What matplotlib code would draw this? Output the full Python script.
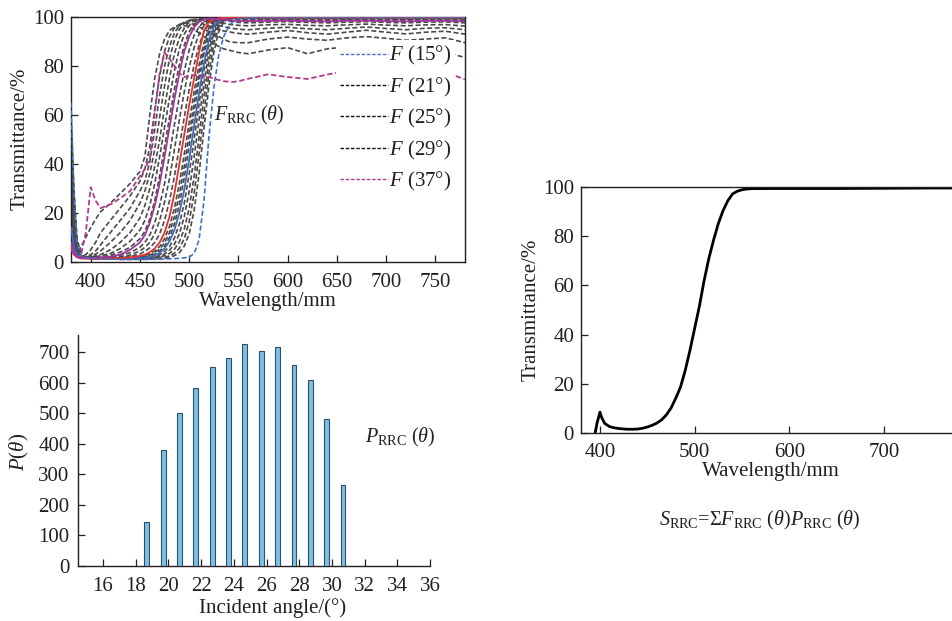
import matplotlib
matplotlib.use('Agg')
import matplotlib.pyplot as plt
from matplotlib.lines import Line2D
import numpy as np

plt.rcParams['font.family'] = ['Liberation Serif', 'DejaVu Serif']
plt.rcParams['mathtext.fontset'] = 'custom'
plt.rcParams['mathtext.rm'] = 'Liberation Serif'
plt.rcParams['mathtext.it'] = 'Liberation Serif:italic'
plt.rcParams['mathtext.bf'] = 'Liberation Serif:bold'

# ---------------- data: top-left, F(theta) spectra ----------------
wl = [380, 383, 386, 390, 395, 400, 405, 410, 420, 430, 440, 450,
      455, 460, 465, 470, 475, 480, 485, 490, 495, 500, 505, 510, 515, 520,
      525, 530, 535, 540, 545, 550,
      560, 580, 600, 620, 640, 660, 680, 700, 720, 740, 760, 780]

F15 = [65, 28, 8, 2.5, 1.8, 1.5, 1.4, 1.3, 1.2, 1.1, 1.1, 1.1,
       1.1, 1.1, 1.1, 1.2, 1.2, 1.3, 1.4, 1.5, 1.7, 2.0, 3.5, 9.0, 25, 51, 71, 84.5, 92, 96, 98.3, 99.3,
       99.7, 99.8, 99.8, 99.8, 99.8, 99.8, 99.8, 99.8, 99.8, 99.8, 99.8, 99.8]
F16 = [60, 30, 10, 3, 1.9, 1.5, 1.4, 1.3, 1.2, 1.1, 1.1, 1.1,
       1.1, 1.2, 1.2, 1.3, 1.4, 1.9, 2.6, 3.8, 6.5, 11.5, 21, 36, 54.5, 72, 85.5, 94, 98, 99.3, 99.6, 99.7,
       99.7, 99.6, 99.7, 99.6, 99.7, 99.7, 99.6, 99.7, 99.7, 99.6, 99.7, 99.7]
F17 = [57, 27, 9, 2.8, 1.9, 1.5, 1.4, 1.3, 1.2, 1.1, 1.1, 1.2,
       1.2, 1.3, 1.4, 1.6, 1.9, 2.5, 3.6, 5.6, 9.5, 16.5, 28, 44, 61, 77, 89, 95.8, 98.6, 99.4, 99.6, 99.6,
       99.5, 99.6, 99.5, 99.6, 99.6, 99.5, 99.6, 99.6, 99.5, 99.6, 99.6, 99.5]
F18 = [52, 24, 8, 2.6, 1.9, 1.5, 1.4, 1.3, 1.2, 1.2, 1.2, 1.3,
       1.4, 1.5, 1.7, 2.0, 2.6, 3.5, 5.2, 8.2, 13.5, 22, 35, 51, 67.5, 82, 92, 97, 99, 99.5, 99.6, 99.6,
       99.5, 99.4, 99.5, 99.5, 99.4, 99.5, 99.5, 99.4, 99.5, 99.5, 99.4, 99.4]
F19 = [48, 21, 7, 2.4, 1.8, 1.5, 1.4, 1.3, 1.2, 1.2, 1.3, 1.4,
       1.5, 1.7, 2.0, 2.4, 3.3, 4.8, 7.2, 11.5, 18.5, 29, 43, 58, 73, 85.5, 93.5, 97.7, 99.2, 99.6, 99.6, 99.5,
       99.5, 99.5, 99.4, 99.5, 99.5, 99.4, 99.5, 99.5, 99.4, 99.5, 99.5, 99.4]
F20 = [44, 18, 6, 2.3, 1.8, 1.5, 1.4, 1.3, 1.2, 1.3, 1.4, 1.5,
       1.7, 2.0, 2.4, 3.0, 4.3, 6.3, 9.8, 15.5, 24, 36, 50, 64.5, 78, 88.5, 95, 98.3, 99.4, 99.7, 99.7, 99.6,
       99.6, 99.6, 99.5, 99.6, 99.6, 99.5, 99.6, 99.6, 99.5, 99.6, 99.6, 99.5]
F21 = [14, 6, 3, 2, 1.7, 1.5, 1.4, 1.3, 1.3, 1.4, 1.5, 1.7,
       1.8, 2.0, 2.7, 3.7, 5.5, 8.5, 13, 20, 29.5, 42, 55.5, 69, 81, 90.5, 96, 98.7, 99.5, 99.7, 99.7, 99.7,
       99.7, 99.7, 99.7, 99.7, 99.7, 99.7, 99.7, 99.7, 99.7, 99.7, 99.7, 99.7]
F22 = [40, 15, 5, 2.2, 1.8, 1.5, 1.4, 1.4, 1.3, 1.4, 1.6, 1.9,
       2.1, 2.4, 3.2, 4.5, 6.5, 10, 15.5, 23.5, 34.5, 47.5, 61, 74, 85, 93, 97.3, 99, 99.6, 99.7, 99.6, 99.6,
       99.5, 99.6, 99.6, 99.5, 99.6, 99.6, 99.5, 99.6, 99.6, 99.5, 99.6, 99.5]
F23 = [35, 13, 4.5, 2.1, 1.8, 1.5, 1.4, 1.4, 1.4, 1.5, 1.7, 2.1,
       2.4, 2.8, 3.8, 5.3, 7.8, 12, 18.5, 27.5, 39, 52, 65, 77, 87, 94, 97.8, 99.2, 99.6, 99.7, 99.6, 99.6,
       99.6, 99.5, 99.6, 99.6, 99.5, 99.6, 99.6, 99.5, 99.6, 99.6, 99.5, 99.5]
F24 = [30, 11, 4, 2, 1.7, 1.5, 1.4, 1.4, 1.4, 1.6, 1.9, 2.2,
       2.7, 3.3, 4.5, 6.3, 9.5, 14.5, 22, 32, 44, 57, 69.5, 80.5, 89.5, 95.5, 98.3, 99.3, 99.6, 99.6, 99.6, 99.5,
       99.5, 99.5, 99.4, 99.5, 99.5, 99.4, 99.5, 99.5, 99.4, 99.5, 99.4, 99.4]
F25 = [6, 3, 2, 1.5, 1.4, 1.3, 1.3, 1.3, 1.4, 1.5, 1.8, 2.5,
       3, 4, 5.5, 8, 12, 18.5, 28, 40, 52, 64, 75, 85.5, 94.5, 97.8, 99, 99.5, 99.7, 99.8, 99.8, 99.8,
       99.8, 99.8, 99.8, 99.8, 99.8, 99.8, 99.8, 99.8, 99.8, 99.8, 99.8, 99.8]
F26 = [26, 9, 3.5, 2, 1.7, 1.5, 1.5, 1.5, 1.6, 1.8, 2.2, 3.3,
       4.3, 5.8, 8, 11.5, 17, 25, 35, 47, 59, 70.5, 80.5, 88.5, 94, 97, 98.6, 99.3, 99.6, 99.6, 99.5, 99.5,
       99.4, 99.5, 99.4, 99.4, 99.5, 99.4, 99.4, 99.5, 99.4, 99.4, 99.5, 99.4]
F27 = [22, 8, 3, 1.9, 1.7, 1.6, 1.6, 1.7, 1.9, 2.2, 2.8, 4.5,
       6, 8, 11.5, 17, 24.5, 34, 46, 58, 69.5, 79.5, 87.5, 93, 96.5, 98.3, 99.2, 99.5, 99.5, 99.4, 99.3, 99.3,
       99.2, 99.3, 99.3, 99.2, 99.3, 99.3, 99.2, 99.3, 99.3, 99.2, 99.3, 99.2]
F28 = [19, 7, 3, 1.9, 1.8, 1.7, 1.8, 1.9, 2.1, 2.8, 3.8, 6,
       8, 11, 16, 23, 32, 44, 56, 67.5, 78, 86.5, 92.5, 96, 98, 99, 99.5, 99.5, 99.3, 99.2, 99.1, 99.0,
       99.0, 99.1, 99.0, 98.9, 99.0, 99.1, 99.0, 98.9, 99.0, 99.1, 99.0, 98.9]
F29 = [8, 4, 2, 1.5, 1.5, 1.6, 1.7, 1.9, 2.2, 3, 5, 8,
       11, 16, 23, 32, 43, 55, 66.5, 77, 86, 92, 95.8, 98, 99, 99.4, 99.3, 99.1, 98.9, 98.7, 98.5, 98.4,
       98.3, 98.4, 98.5, 98.3, 98.2, 98.4, 98.5, 98.3, 98.2, 98.4, 98.4, 98.2]
F30 = [16, 6, 2.8, 1.8, 1.8, 1.8, 1.9, 2, 2.8, 4, 6, 9.5,
       12.5, 17.5, 25, 35, 47, 59, 70.5, 80.5, 88.5, 94, 97, 98.6, 99.3, 99.5, 99.5, 99.3, 99.1, 98.9, 98.7, 98.6,
       98.6, 98.8, 98.7, 98.5, 98.7, 98.8, 98.6, 98.5, 98.7, 98.8, 98.6, 98.4]
F31 = [13, 5, 2.5, 1.8, 1.9, 2, 2.2, 2.5, 3.5, 5.5, 8.5, 13,
       17, 23, 32, 43, 55, 67, 78, 87, 93, 96.5, 98.5, 99.3, 99.5, 99.5, 99.2, 98.9, 98.6, 98.3, 98.0, 97.8,
       97.6, 97.9, 98.1, 97.8, 97.6, 97.9, 98.1, 97.8, 97.6, 97.9, 98.0, 97.6]
F32 = [11, 4.5, 2.5, 1.8, 1.9, 2.0, 2.5, 3, 5, 8, 12, 18,
       23, 30, 39, 50, 63, 75, 85, 91.5, 95.5, 98, 99, 99.3, 99.2, 98.9, 98.5, 98, 97.5, 97, 96.8, 96.6,
       96.4, 96.8, 97.0, 96.6, 96.4, 96.8, 97.1, 96.7, 96.4, 96.8, 96.9, 96.3]
F33 = [10, 4, 2.3, 1.8, 2.0, 2.5, 3.2, 4.5, 8, 12, 17, 24,
       29, 36, 46, 59, 72, 83, 90.5, 95, 97.5, 98.7, 99, 98.8, 98.3, 97.8, 97.2, 96.6, 96, 95.6, 95.3, 95,
       94.8, 95.4, 95.8, 95.2, 94.8, 95.4, 95.9, 95.3, 94.8, 95.4, 95.6, 94.8]
F34 = [9, 4, 2.3, 2, 2.2, 3, 4.5, 7, 12, 17, 22, 29,
       33, 41, 54, 68, 80, 88, 93.5, 96.5, 98, 98.5, 98.3, 97.8, 97, 96.3, 95.5, 95, 94.3, 94, 93.6, 93.3,
       93, 93.8, 94.5, 93.6, 93, 93.8, 94.6, 93.8, 93.1, 93.8, 94.2, 93.0]
F35 = [8, 4, 2.3, 2.5, 3, 5, 8, 12, 17, 22, 27, 33,
       38, 47, 62, 76, 86, 92, 95.5, 97, 97.5, 97.5, 97, 96, 95, 94, 93, 92, 91, 90, 89.7, 89.5,
       89.5, 91, 91.8, 91, 90.5, 91.5, 92, 91.3, 90.5, 91, 91.5, 89.5]
F36 = [7, 4, 3, 6, 10, 14, 17.5, 20.5, 24, 28, 32, 37,
       43, 60, 75, 85, 91, 94.5, 96, 96.5, 96.5, 96, 95, 93.5, 92, 90.5, 89, 88, 87, 86.5, 86, 85.5,
       85, 86.5, 87.5, 85, 87, 87.8, 86.7, 85.5, 86, 87, 85.5, 83.5]
F37 = [5, 3, 2, 2.5, 12, 30.5, 25, 22, 23.5, 26, 29, 35,
       38, 42, 61, 77, 85.5, 83, 80, 77, 75.5, 75.8, 76.3, 76, 75.5, 75.5, 74.8, 74.3, 73.8, 73.6, 73.5, 73.8,
       74.8, 76.6, 75.5, 74.7, 76.5, 78, 78.2, 77.2, 76.5, 77, 77.5, 74.5]

F_angles = [15, 16, 17, 18, 19, 20, 21, 22, 23, 24, 25, 26,
            27, 28, 29, 30, 31, 32, 33, 34, 35, 36, 37]
F_curves = [F15, F16, F17, F18, F19, F20, F21, F22, F23, F24, F25, F26,
            F27, F28, F29, F30, F31, F32, F33, F34, F35, F36, F37]
legend_angles = [15, 21, 25, 29, 37]

# ---------------- data: bottom-left, P(theta) ----------------
P_angles = [19, 20, 21, 22, 23, 24, 25, 26, 27, 28, 29, 30, 31]
P_values = [144, 380, 502, 584, 652, 680, 727, 703, 717, 658, 610, 481, 266]

# ---------------- data: right, S spectrum ----------------
S_wl = [395, 397, 400, 402, 405, 410, 415, 420, 425, 430, 435, 440, 445, 450,
        455, 460, 465, 470, 475, 480, 485, 490, 495, 500, 505, 510, 515, 520,
        525, 530, 535, 540, 545, 550, 555, 560, 580, 600, 650, 700, 750, 780]
S_T = [0, 4, 8.4, 6.0, 3.8, 2.5, 2.0, 1.7, 1.5, 1.4, 1.4, 1.5, 1.8, 2.3,
       3.0, 3.9, 5.2, 7.2, 10.0, 14.0, 18.5, 25.3, 33.5, 42.5, 51.5, 62, 71, 78.5,
       85.2, 90.5, 94.5, 97.3, 98.4, 99.0, 99.3, 99.45, 99.5, 99.5, 99.5, 99.6, 99.7, 99.7]

# ---------------- figure ----------------
W, H = 953, 621
fig = plt.figure(figsize=(W / 100, H / 100), dpi=100)

def box(l, t, r, b):
    return [l / W, 1 - b / H, (r - l) / W, (b - t) / H]

TXT = '#231f20'
SP = '#231f20'
TS = 15
LS = 15

# ---- top-left ----
ax1 = fig.add_axes(box(71, 17, 465, 262))
gray = '#4a4a4a'
dash = (0, (3.0, 1.5))
styles = {15: dict(color='#3f6fc6', ls=dash, lw=1.2, zorder=4),
          21: dict(color='#3d6ac0', ls='-', lw=1.3, zorder=3),
          25: dict(color='#e8302a', ls='-', lw=1.3, zorder=3),
          29: dict(color='#a3339b', ls='-', lw=1.3, zorder=3),
          37: dict(color='#b23a8e', ls=dash, lw=1.3, zorder=4)}
for ang, vals in zip(F_angles, F_curves):
    st = styles.get(ang, dict(color=gray, ls=dash, lw=1.2, zorder=2))
    ax1.plot(wl, vals, **st)
ax1.set_xlim(380, 780)
ax1.set_ylim(0, 100)
ax1.set_xticks([400, 450, 500, 550, 600, 650, 700, 750])
ax1.set_yticks([0, 20, 40, 60, 80, 100])
ax1.tick_params(direction='in', length=5, width=0.9, labelsize=TS, colors=SP,
                labelcolor=TXT)
ax1.tick_params(axis='x', pad=8)
ax1.tick_params(axis='y', pad=5)
for s in ax1.spines.values():
    s.set_color(SP)
    s.set_linewidth(1.0)
ax1.text(525, 60, r'$F_{\rm RRC}$ ($\theta$)', fontsize=14.5, color=TXT,
         ha='left', va='center')

leg_colors = {15: '#3f6fc6', 21: '#111111', 25: '#111111', 29: '#111111', 37: '#b23a8e'}
handles = [Line2D([], [], color=leg_colors[a], ls=(0, (2.5, 1.3)), lw=1.0) for a in legend_angles]
labels = [r'$F$ (%d°)' % a for a in legend_angles]
leg = ax1.legend(handles, labels, loc='upper left', bbox_to_anchor=(0.672, 0.905),
                 frameon=True, fontsize=15, handlelength=2.3, handletextpad=0.05,
                 labelspacing=0.4, borderpad=0.2, borderaxespad=0.0)
leg.get_frame().set_edgecolor('none')
leg.get_frame().set_facecolor('white')
leg.get_frame().set_alpha(1.0)
leg.get_frame().set_boxstyle('square', pad=0.0)
leg.set_zorder(10)
for t in leg.get_texts():
    t.set_color(TXT)

fig.text(267.5 / W, 1 - 302 / H, 'Wavelength/mm', fontsize=LS, color=TXT,
         ha='center', va='center')
fig.text(20 / W, 1 - 139 / H, 'Transmittance/%', fontsize=LS, color=TXT,
         ha='center', va='center', rotation=90)

# ---- bottom-left ----
ax2 = fig.add_axes(box(78, 335, 430, 566))
ax2.bar([a - 0.32 for a in P_angles], P_values, width=0.3, color='#7cc0e2',
        edgecolor='#2e4e66', linewidth=0.8, zorder=3)
ax2.set_xlim(14.47, 36)
ax2.set_ylim(0, 757)
ax2.set_xticks([16, 18, 20, 22, 24, 26, 28, 30, 32, 34, 36])
ax2.set_yticks([0, 100, 200, 300, 400, 500, 600, 700])
ax2.spines['top'].set_visible(False)
ax2.spines['right'].set_visible(False)
for s in ('left', 'bottom'):
    ax2.spines[s].set_color(SP)
    ax2.spines[s].set_linewidth(1.0)
ax2.tick_params(direction='in', length=5, width=0.9, labelsize=TS, colors=SP,
                labelcolor=TXT)
ax2.tick_params(axis='x', pad=8)
ax2.tick_params(axis='y', pad=6)
ax2.text(32.0, 420, r'$P_{\rm RRC}$ ($\theta$)', fontsize=14.5, color=TXT,
         ha='left', va='center')
fig.text(272.5 / W, 1 - 608 / H, 'Incident angle/(°)', fontsize=LS, color=TXT,
         ha='center', va='center')
fig.text(19 / W, 1 - 452 / H, r'$P$($\theta$)', fontsize=LS, color=TXT,
         ha='center', va='center', rotation=90)

# ---- right ----
ax3 = fig.add_axes(box(581, 187.3, 959.8, 432.7))
ax3.plot(S_wl, S_T, color='black', lw=2.0, solid_capstyle='round')
ax3.set_xlim(380, 780)
ax3.set_ylim(0, 100)
ax3.set_xticks([400, 500, 600, 700])
ax3.set_yticks([0, 20, 40, 60, 80, 100])
ax3.spines['right'].set_visible(False)
for s in ('left', 'bottom', 'top'):
    ax3.spines[s].set_color(SP)
    ax3.spines[s].set_linewidth(1.0)
ax3.tick_params(direction='in', length=5, width=0.9, labelsize=TS, colors=SP,
                labelcolor=TXT)
ax3.tick_params(axis='x', pad=7.5)
ax3.tick_params(axis='y', pad=5)
fig.text(770.8 / W, 1 - 471.7 / H, 'Wavelength/mm', fontsize=LS, color=TXT,
         ha='center', va='center')
fig.text(530.8 / W, 1 - 310 / H, 'Transmittance/%', fontsize=LS, color=TXT,
         ha='center', va='center', rotation=90)

fig.text(760 / W, 1 - 520 / H,
         r'$S_{\rm RRC}$=Σ$F_{\rm RRC}$ ($\theta$)$P_{\rm RRC}$ ($\theta$)',
         fontsize=14.5, color=TXT, ha='center', va='center')

fig.savefig('out.png', dpi=100)
